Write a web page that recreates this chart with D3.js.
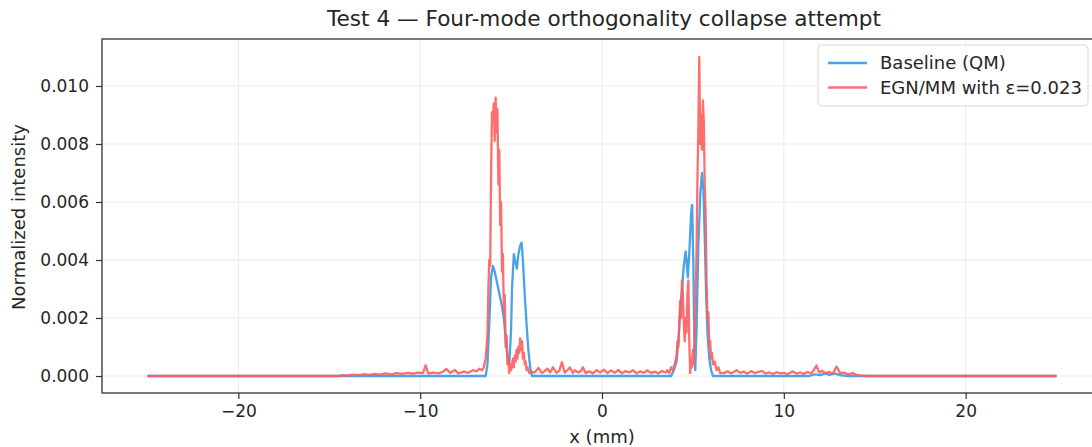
<!DOCTYPE html>
<html><head><meta charset="utf-8">
<script src="https://cdn.jsdelivr.net/npm/d3@7"></script>
<style>
html,body{margin:0;padding:0;background:#fff;overflow:hidden}
text{font-family:"DejaVu Sans",sans-serif;fill:#262626}
</style></head>
<body><svg id="c" width="1092" height="447"></svg>
<script>
const title = "Test 4 — Four-mode orthogonality collapse attempt";
const xLabel = "x (mm)";
const yLabel = "Normalized intensity";
const seriesNames = ["Baseline (QM)", "EGN/MM with ε=0.023"];
const xTicks = [-20, -10, 0, 10, 20];
const yTicks = [0, 0.002, 0.004, 0.006, 0.008, 0.010];

// Baseline (QM)
const blueX = [-25, -6.4, -6.3, -6.2, -6.1, -6.0, -5.9, -5.8, -5.7, -5.6, -5.5, -5.4, -5.3, -5.2, -5.1, -5.0, -4.95, -4.85, -4.75, -4.68, -4.6, -4.5, -4.42, -4.35, -4.25, -4.15, -4.05, -3.95, -3.85,
  3.8, 3.95, 4.1, 4.2, 4.3, 4.4, 4.5, 4.6, 4.65, 4.72, 4.8, 4.9, 4.96, 5.02, 5.08, 5.13, 5.2, 5.3, 5.4, 5.5, 5.58, 5.65, 5.72, 5.8, 5.9, 6.0, 6.1,
  11.4, 11.7, 12.0, 12.3, 12.5, 12.8, 13.1, 13.5, 25];
const blueY = [0, 0, 0.0004, 0.0018, 0.0034, 0.0038, 0.0036, 0.0033, 0.0030, 0.0027, 0.0024, 0.0020, 0.0013, 0.0007, 0.0004, 0.0016, 0.0030, 0.0042, 0.0039, 0.0037, 0.0042, 0.0045, 0.0046, 0.0040, 0.0028, 0.0018, 0.0009, 0.0003, 0,
  0, 0.0002, 0.0005, 0.0012, 0.0022, 0.0030, 0.0038, 0.0043, 0.0040, 0.0034, 0.0042, 0.0056, 0.0059, 0.0040, 0.0012, 0.0002, 0.0016, 0.0045, 0.0062, 0.0070, 0.0064, 0.0048, 0.0030, 0.0015, 0.0006, 0.0002, 0,
  0, 0.00006, 0.00003, 0.00009, 0.00004, 0.00008, 0.00003, 0, 0];

// EGN/MM with eps = 0.023
const redX = [-25, -14.5, -14.3, -14.0, -13.7, -13.4, -13.1, -12.8, -12.5, -12.2, -11.9, -11.6, -11.3, -11.0, -10.7, -10.4, -10.1, -9.85, -9.7, -9.55, -9.3, -9.0, -8.8, -8.55, -8.35, -8.1, -7.9, -7.6, -7.35, -7.1, -6.9, -6.75,
  -6.6, -6.5, -6.4, -6.3, -6.25, -6.2, -6.15, -6.1, -6.05, -6.0, -5.95, -5.9, -5.85, -5.8, -5.75, -5.7, -5.65, -5.6, -5.55, -5.5, -5.45, -5.4, -5.35, -5.3, -5.25, -5.2, -5.15, -5.1, -5.05, -5.0,
  -4.9, -4.85, -4.8, -4.75, -4.7, -4.65, -4.6, -4.55, -4.5, -4.45, -4.4, -4.35, -4.3, -4.25, -4.2, -4.15, -4.1, -4.0, -3.9,
  -3.7, -3.5, -3.3, -3.0, -2.85, -2.7, -2.5, -2.35, -2.2, -2.05, -1.9, -1.76, -1.6, -1.5, -1.3, -1.15, -1.05, -0.9, -0.7, -0.5, -0.3, -0.1, 0.1, 0.3, 0.5, 0.7, 0.9, 1.1, 1.3, 1.5, 1.7, 1.9, 2.1, 2.3, 2.5, 2.7, 2.9, 3.1, 3.3, 3.5,
  3.6, 3.7, 3.8, 3.9, 4.0, 4.1, 4.15, 4.2, 4.25, 4.3, 4.35, 4.4, 4.45, 4.5, 4.55, 4.6, 4.65, 4.7, 4.75, 4.8, 4.85, 4.9, 4.95, 5.0, 5.05, 5.1, 5.15, 5.2, 5.25, 5.3, 5.35, 5.4, 5.45, 5.5, 5.55, 5.6, 5.65, 5.7, 5.75, 5.8, 5.85, 5.9, 5.95, 6.0, 6.05, 6.1, 6.2, 6.3, 6.4, 6.5,
  6.7, 6.9, 7.1, 7.4, 7.6, 7.8, 8.0, 8.2, 8.4, 8.6, 8.8, 9.0, 9.2, 9.4, 9.6, 9.8, 10.0, 10.2, 10.5, 10.7, 10.9, 11.1, 11.3, 11.5, 11.65, 11.8, 11.95, 12.1, 12.3, 12.5, 12.7, 12.9, 13.1, 13.3, 13.5, 13.8, 14.0, 14.2, 14.5, 25];
const redY = [0, 0, 0.00003, 0.00002, 0.00005, 0.00003, 0.00006, 0.00004, 0.00007, 0.00005, 0.00009, 0.00006, 0.00010, 0.00007, 0.00011, 0.00008, 0.00012, 0.00010, 0.00037, 0.00008, 0.00012, 0.00009, 0.00013, 0.00024, 0.00010, 0.00021, 0.00009, 0.00015, 0.00011, 0.00020, 0.00016, 0.00025,
  0.0002, 0.0003, 0.0006, 0.0014, 0.0030, 0.0040, 0.0038, 0.0070, 0.0091, 0.0089, 0.0094, 0.0081, 0.0096, 0.0084, 0.0092, 0.0066, 0.0078, 0.0052, 0.0060, 0.0036, 0.0042, 0.0022, 0.0028, 0.0010, 0.0014, 0.0004, 0.0007, 0.0001, 0.0004, 0.0002,
  0.0006, 0.0003, 0.0007, 0.0005, 0.0009, 0.0006, 0.0010, 0.0008, 0.0013, 0.0009, 0.0012, 0.0006, 0.0008, 0.0004, 0.0005, 0.0002, 0.0003, 0.0001, 0.00015,
  0.00012, 0.00028, 0.00010, 0.00025, 0.00012, 0.00030, 0.00011, 0.00018, 0.00048, 0.00012, 0.00020, 0.00030, 0.00010, 0.00020, 0.00012, 0.00018, 0.00030, 0.00010, 0.00016, 0.00009, 0.00020, 0.00012, 0.00022, 0.00010, 0.00019, 0.00011, 0.00021, 0.00009, 0.00017, 0.00012, 0.00020, 0.00009, 0.00016, 0.00011, 0.00019, 0.00010, 0.00015, 0.00009, 0.00017, 0.00012,
  0.0002, 0.0001, 0.0003, 0.0002, 0.0004, 0.0007, 0.0012, 0.0010, 0.0018, 0.0026, 0.0020, 0.0033, 0.0028, 0.0018, 0.0012, 0.0020, 0.0015, 0.0028, 0.0033, 0.0012, 0.0001, 0.0006, 0.0003, 0.0009, 0.0004, 0.0014, 0.0030, 0.0042, 0.0068, 0.0085, 0.0110, 0.0080, 0.0090, 0.0078, 0.0095, 0.0088, 0.0066, 0.0056, 0.0032, 0.0020, 0.0022, 0.0010, 0.0012, 0.0006, 0.0008, 0.0004, 0.0005, 0.0002, 0.0003, 0.0001,
  0.00010, 0.00016, 0.00009, 0.00020, 0.00011, 0.00015, 0.00008, 0.00017, 0.00010, 0.00014, 0.00018, 0.00008, 0.00012, 0.00007, 0.00013, 0.00009, 0.00011, 0.00006, 0.00016, 0.00008, 0.00012, 0.00007, 0.00014, 0.00009, 0.00020, 0.00036, 0.00012, 0.00018, 0.00010, 0.00014, 0.00008, 0.00033, 0.00010, 0.00012, 0.00006, 0.00010, 0.00004, 0.00002, 0, 0];

const blueColor = "#4aa3e8";
const redColor = "#ff5e5e";

const svg = d3.select("#c");
const L = 102, R = 1102, T = 39, B = 393;
const x = d3.scaleLinear().domain([-27.5, 27.5]).range([L, R]);
const y = d3.scaleLinear().domain([-0.000586, 0.01162]).range([B, T]);

// grid
const g = svg.append("g");
g.selectAll(".gx").data(xTicks).enter().append("line")
  .attr("x1", d => x(d)).attr("x2", d => x(d)).attr("y1", T).attr("y2", B)
  .attr("stroke", "#ebebeb").attr("stroke-width", 1);
g.selectAll(".gy").data(yTicks).enter().append("line")
  .attr("x1", L).attr("x2", R).attr("y1", d => y(d)).attr("y2", d => y(d))
  .attr("stroke", "#ebebeb").attr("stroke-width", 1);

const line = d3.line().x(d => x(d[0])).y(d => y(d[1]));
const blueData = d3.zip(blueX, blueY);
const redData = d3.zip(redX, redY);
svg.append("path").datum(blueData).attr("d", line).attr("fill", "none")
  .attr("stroke", blueColor).attr("stroke-width", 2.3).attr("stroke-linejoin", "round");
svg.append("path").datum(redData).attr("d", line).attr("fill", "none")
  .attr("stroke", redColor).attr("stroke-opacity", 0.9).attr("stroke-width", 2.3).attr("stroke-linejoin", "round");

// frame
svg.append("rect").attr("x", L).attr("y", T).attr("width", R - L).attr("height", B - T)
  .attr("fill", "none").attr("stroke", "#333").attr("stroke-width", 1.3);

// axes
const xAxis = d3.axisBottom(x).tickValues(xTicks).tickSize(6).tickPadding(6);
const yAxis = d3.axisLeft(y).tickValues(yTicks).tickSize(6).tickPadding(7).tickFormat(d3.format(".3f"));
const gx = svg.append("g").attr("transform", `translate(0,${B})`).call(xAxis);
const gy = svg.append("g").attr("transform", `translate(${L},0)`).call(yAxis);
[gx, gy].forEach(a => {
  a.select(".domain").remove();
  a.selectAll(".tick line").attr("stroke", "#333").attr("stroke-width", 1.2);
  a.selectAll(".tick text").attr("font-size", 17).attr("font-family", "DejaVu Sans").attr("fill", "#262626");
});

// labels
svg.append("text").attr("x", 604).attr("y", 25.5).attr("text-anchor", "middle").attr("font-size", 21.6).text(title);
svg.append("text").attr("x", 602).attr("y", 443).attr("text-anchor", "middle").attr("font-size", 18).text(xLabel);
svg.append("text").attr("transform", "translate(25,217) rotate(-90)").attr("text-anchor", "middle").attr("font-size", 18).text(yLabel);

// legend
const lg = svg.append("g");
lg.append("rect").attr("x", 818).attr("y", 45).attr("width", 270).attr("height", 61).attr("rx", 4)
  .attr("fill", "#fff").attr("fill-opacity", 0.85).attr("stroke", "#d8d8d8");
const colors = [blueColor, redColor];
seriesNames.forEach((n, i) => {
  const yy = 63 + i * 24.5;
  lg.append("line").attr("x1", 828).attr("x2", 867).attr("y1", yy).attr("y2", yy)
    .attr("stroke", colors[i]).attr("stroke-width", 2.3).attr("stroke-opacity", i ? 0.9 : 1);
  lg.append("text").attr("x", 880).attr("y", yy + 6).attr("font-size", 18).text(n);
});
</script></body></html>
